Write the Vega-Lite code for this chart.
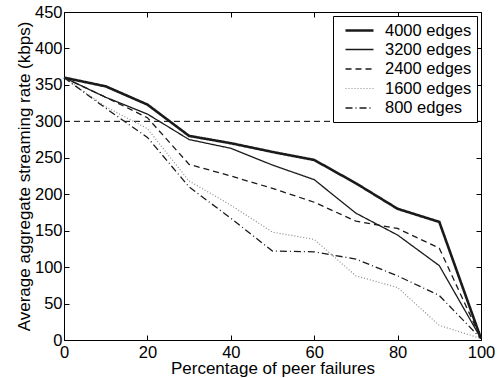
{
  "$schema": "https://vega.github.io/schema/vega-lite/v6.json",
  "autosize": {"type": "none"},
  "width": 417,
  "height": 328,
  "padding": {"left": 64, "top": 12, "right": 22, "bottom": 38},
  "background": "white",
  "config": {
    "font": "Liberation Sans",
    "view": {"stroke": "black", "strokeWidth": 1},
    "axis": {
      "domainColor": "black",
      "tickColor": "black",
      "tickSize": -5,
      "grid": false,
      "labelFont": "Liberation Sans",
      "labelFontSize": 16.5,
      "labelColor": "black",
      "titleFont": "Liberation Sans",
      "titleFontSize": 17,
      "titleFontWeight": "normal",
      "titleColor": "black"
    }
  },
  "datasets": {
    "series": [
      {"x": 0, "y": 360, "s": "4000 edges"}, {"x": 10, "y": 348, "s": "4000 edges"}, {"x": 20, "y": 323, "s": "4000 edges"}, {"x": 30, "y": 280, "s": "4000 edges"}, {"x": 40, "y": 270, "s": "4000 edges"}, {"x": 50, "y": 258, "s": "4000 edges"}, {"x": 60, "y": 247, "s": "4000 edges"}, {"x": 70, "y": 215, "s": "4000 edges"}, {"x": 80, "y": 180, "s": "4000 edges"}, {"x": 90, "y": 162, "s": "4000 edges"}, {"x": 100, "y": 2, "s": "4000 edges"},
      {"x": 0, "y": 360, "s": "3200 edges"}, {"x": 10, "y": 333, "s": "3200 edges"}, {"x": 20, "y": 310, "s": "3200 edges"}, {"x": 30, "y": 275, "s": "3200 edges"}, {"x": 40, "y": 263, "s": "3200 edges"}, {"x": 50, "y": 240, "s": "3200 edges"}, {"x": 60, "y": 220, "s": "3200 edges"}, {"x": 70, "y": 174, "s": "3200 edges"}, {"x": 80, "y": 144, "s": "3200 edges"}, {"x": 90, "y": 102, "s": "3200 edges"}, {"x": 100, "y": 2, "s": "3200 edges"},
      {"x": 0, "y": 360, "s": "2400 edges"}, {"x": 10, "y": 333, "s": "2400 edges"}, {"x": 20, "y": 305, "s": "2400 edges"}, {"x": 30, "y": 241, "s": "2400 edges"}, {"x": 40, "y": 225, "s": "2400 edges"}, {"x": 50, "y": 208, "s": "2400 edges"}, {"x": 60, "y": 189, "s": "2400 edges"}, {"x": 70, "y": 163, "s": "2400 edges"}, {"x": 80, "y": 153, "s": "2400 edges"}, {"x": 90, "y": 126, "s": "2400 edges"}, {"x": 100, "y": 2, "s": "2400 edges"},
      {"x": 0, "y": 360, "s": "1600 edges"}, {"x": 10, "y": 320, "s": "1600 edges"}, {"x": 20, "y": 290, "s": "1600 edges"}, {"x": 30, "y": 218, "s": "1600 edges"}, {"x": 40, "y": 185, "s": "1600 edges"}, {"x": 50, "y": 148, "s": "1600 edges"}, {"x": 60, "y": 138, "s": "1600 edges"}, {"x": 70, "y": 88, "s": "1600 edges"}, {"x": 80, "y": 72, "s": "1600 edges"}, {"x": 90, "y": 20, "s": "1600 edges"}, {"x": 100, "y": 2, "s": "1600 edges"},
      {"x": 0, "y": 360, "s": "800 edges"}, {"x": 10, "y": 318, "s": "800 edges"}, {"x": 20, "y": 278, "s": "800 edges"}, {"x": 30, "y": 210, "s": "800 edges"}, {"x": 40, "y": 167, "s": "800 edges"}, {"x": 50, "y": 122, "s": "800 edges"}, {"x": 60, "y": 121, "s": "800 edges"}, {"x": 70, "y": 111, "s": "800 edges"}, {"x": 80, "y": 88, "s": "800 edges"}, {"x": 90, "y": 61, "s": "800 edges"}, {"x": 100, "y": 2, "s": "800 edges"}
    ],
    "threshold": [{"v": 300, "x0": 0, "x1": 100}]
  },
  "layer": [
    {
      "data": {"name": "threshold"},
      "mark": {"type": "rule", "color": "black", "strokeWidth": 1, "strokeDash": [6, 4]},
      "encoding": {
        "x": {"field": "x0", "type": "quantitative", "scale": {"domain": [0, 100], "nice": false},
          "axis": {"orient": "top", "labels": false, "title": null, "values": [0, 20, 40, 60, 80, 100], "domain": false}},
        "x2": {"field": "x1"},
        "y": {"field": "v", "type": "quantitative", "scale": {"domain": [0, 450]},
          "axis": {"orient": "right", "labels": false, "title": null, "values": [0, 50, 100, 150, 200, 250, 300, 350, 400, 450], "domain": false}}
      }
    },
    {
      "data": {"name": "series"},
      "mark": {"type": "line"},
      "encoding": {
        "x": {"field": "x", "type": "quantitative", "scale": {"domain": [0, 100], "nice": false},
          "axis": {"title": "Percentage of peer failures", "values": [0, 20, 40, 60, 80, 100], "labelPadding": 9, "titlePadding": 0, "labelFlush": false}},
        "y": {"field": "y", "type": "quantitative", "scale": {"domain": [0, 450]},
          "axis": {"title": "Average aggregate streaming rate (kbps)", "values": [0, 50, 100, 150, 200, 250, 300, 350, 400, 450], "labelPadding": 7, "titlePadding": 1}},
        "strokeDash": {"field": "s", "type": "ordinal",
          "scale": {"type": "ordinal", "domain": ["4000 edges", "3200 edges", "2400 edges", "1600 edges", "800 edges"],
                    "range": [[1, 0], [1, 0], [6, 4], [1, 2], [7, 3, 1, 3]]},
          "legend": {"title": null}},
        "strokeWidth": {"field": "s", "type": "ordinal",
          "scale": {"type": "ordinal", "domain": ["4000 edges", "3200 edges", "2400 edges", "1600 edges", "800 edges"],
                    "range": [2.6, 1.3, 1.3, 1.2, 1.3]},
          "legend": {"title": null}},
        "color": {"field": "s", "type": "ordinal",
          "scale": {"type": "ordinal", "domain": ["4000 edges", "3200 edges", "2400 edges", "1600 edges", "800 edges"],
                    "range": ["#1a1a1a", "#1a1a1a", "#1a1a1a", "#8a8a8a", "#1a1a1a"]},
          "legend": {"title": null, "orient": "top-right", "offset": 4, "padding": 5,
            "strokeColor": "black", "fillColor": "white", "symbolType": "M-1.75,0L1.75,0", "symbolSize": 256,
            "symbolOffset": 12, "labelFontSize": 16.5, "labelFont": "Liberation Sans", "labelColor": "black",
            "rowPadding": 1.5, "labelOffset": 16, "cornerRadius": 0,
            "encode": {"symbols": {"update": {"strokeWidth": {"scale": "strokeWidth", "field": "value"}}}}}}
      }
    }
  ],
  "resolve": {"axis": {"y": "independent", "x": "independent"}}
}
